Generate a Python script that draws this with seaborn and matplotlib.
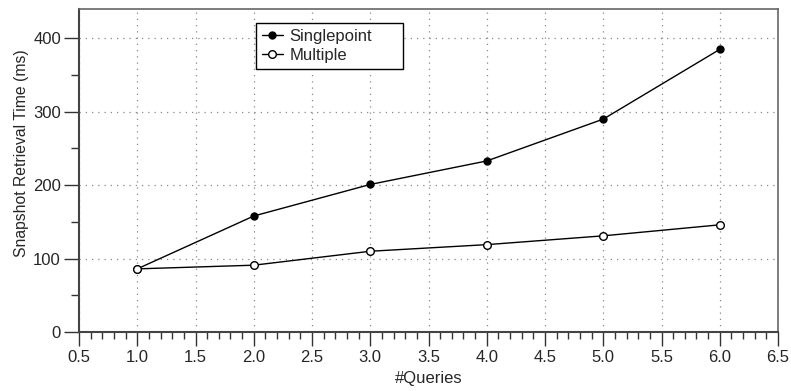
import matplotlib
matplotlib.use("Agg")
import matplotlib.pyplot as plt
from matplotlib.ticker import MultipleLocator, FormatStrFormatter
import seaborn as sns
import pandas as pd

queries = [1, 2, 3, 4, 5, 6]
singlepoint = [86, 158, 201, 233, 290, 385]
multiple = [86, 91, 110, 119, 131, 146]

sns.set_style("ticks")
plt.rcParams['font.family'] = ['Liberation Sans', 'DejaVu Sans']
plt.rcParams['font.size'] = 12

df_single = pd.DataFrame({'Queries': queries, 'Time': singlepoint})
df_multi = pd.DataFrame({'Queries': queries, 'Time': multiple})

fig = plt.figure(figsize=(7.91, 3.91), dpi=100)
ax = fig.add_axes([0.0999, 0.1509, 0.8837, 0.8261])

sns.lineplot(data=df_single, x='Queries', y='Time', ax=ax, color='black', lw=1,
             marker='o', markersize=5, markerfacecolor='black',
             markeredgecolor='black', markeredgewidth=1, label='Singlepoint')
sns.lineplot(data=df_multi, x='Queries', y='Time', ax=ax, color='black', lw=1,
             marker='o', markersize=5.5, markerfacecolor='white',
             markeredgecolor='black', markeredgewidth=1, label='Multiple')

ax.set_xlim(0.5, 6.5)
ax.set_ylim(0, 440)
ax.xaxis.set_major_locator(MultipleLocator(0.5))
ax.xaxis.set_minor_locator(MultipleLocator(0.1))
ax.xaxis.set_major_formatter(FormatStrFormatter('%.1f'))
ax.yaxis.set_major_locator(MultipleLocator(100))
ax.yaxis.set_minor_locator(MultipleLocator(50))

ax.tick_params(axis='x', which='major', direction='out', length=10, width=1, labelsize=12, color='#333333', pad=3)
ax.tick_params(axis='x', which='minor', direction='out', length=5, width=1, color='#333333')
ax.tick_params(axis='y', which='major', direction='out', length=11, width=1, labelsize=12, color='#333333', pad=2)
ax.tick_params(axis='y', which='minor', direction='out', length=6, width=1, color='#333333')
ax.tick_params(top=False, right=False, which='both')

ax.grid(True, which='major', color='#888888', linestyle=(0, (1, 4)), linewidth=0.9)
for side in ['left', 'bottom']:
    ax.spines[side].set_color('#444444')
    ax.spines[side].set_linewidth(1.5)
for side in ['top', 'right']:
    ax.spines[side].set_color('#666666')
    ax.spines[side].set_linewidth(1.2)
    ax.spines[side].set_visible(True)

ax.set_xlabel('#Queries', fontsize=12, labelpad=4)
ax.set_ylabel('Snapshot Retrieval Time (ms)', fontsize=11.3)
ax.yaxis.set_label_coords(-0.072, 0.555)

leg = ax.legend(loc='upper left', bbox_to_anchor=(0.253, 0.0, 0.210, 0.957), mode='expand',
                borderaxespad=0, fancybox=False, edgecolor='black', framealpha=1, fontsize=12,
                handlelength=1.25, handletextpad=0.4, borderpad=0.35, labelspacing=0.25)
leg.get_frame().set_linewidth(1)

fig.savefig('out.png', dpi=100)
